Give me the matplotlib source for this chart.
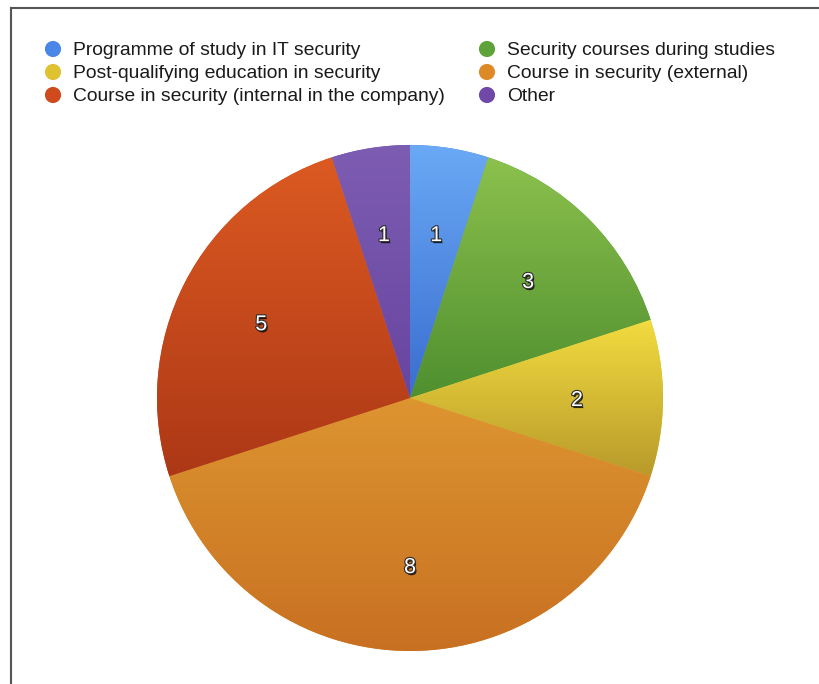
import numpy as np
import matplotlib
matplotlib.use("Agg")
import matplotlib.pyplot as plt
import matplotlib.patheffects as pe
import matplotlib.transforms as mtransforms
from matplotlib.colors import to_rgb
from matplotlib.lines import Line2D

plt.rcParams['font.family'] = ['Liberation Sans', 'DejaVu Sans']

# Survey data: type of security training
categories = [
    "Programme of study in IT security",
    "Security courses during studies",
    "Post-qualifying education in security",
    "Course in security (external)",
    "Course in security (internal in the company)",
    "Other",
]
counts = [1, 3, 2, 8, 5, 1]

# Top / bottom shades of each slice's vertical gradient
top_colors = ["#6aa9f5", "#8cc14d", "#f2dc3f", "#dd9530", "#dc5a22", "#7d5db2"]
bottom_colors = ["#3a6dd0", "#4f8f2f", "#b89a2b", "#c87022", "#ad3816", "#6845a0"]
legend_colors = ["#4a86e8", "#5ea33a", "#e0c230", "#dd8a26", "#cf4a1c", "#7048a8"]

W, H = 819, 684
fig = plt.figure(figsize=(W / 100, H / 100), dpi=100)
ax = fig.add_axes([0, 0, 1, 1])

cx, cy, R = 410, H - 398, 253
total = sum(counts)

wedges, _, autotexts = ax.pie(
    counts,
    startangle=90,
    counterclock=False,
    center=(cx, cy),
    radius=R,
    colors=[c for c in legend_colors],
    autopct=lambda p: f"{int(round(p * total / 100))}",
    pctdistance=0.66,
    wedgeprops=dict(linewidth=0),
    frame=True,
)

# vertical gradient fill clipped to each wedge
for w, ct, cb in zip(wedges, top_colors, bottom_colors):
    ext = w.get_path().get_extents()
    t = np.linspace(0, 1, 256)[:, None]
    c0, c1 = np.array(to_rgb(ct)), np.array(to_rgb(cb))
    img = (c0[None, None, :] * (1 - t[:, :, None]) + c1[None, None, :] * t[:, :, None])
    img = np.repeat(img, 2, axis=1)
    im = ax.imshow(img, extent=(ext.x0, ext.x1, ext.y0, ext.y1), origin='upper',
                   interpolation='bilinear', zorder=w.get_zorder() + 0.1)
    im.set_clip_path(w)

shift = mtransforms.ScaledTranslation(0, -2.5 / 100, fig.dpi_scale_trans)
for txt in autotexts:
    txt.set_color("white")
    txt.set_fontsize(15.5)
    txt.set_zorder(10)
    txt.set_transform(txt.get_transform() + shift)
    txt.set_path_effects([
        pe.withSimplePatchShadow(offset=(1.0, -1.5), shadow_rgbFace="black", alpha=0.8),
        pe.Stroke(linewidth=1.6, foreground="#2e2e2e"),
        pe.Normal(),
    ])

ax.set_xlim(0, W)
ax.set_ylim(0, H)
ax.set_aspect('equal')
ax.axis('off')

# legend: two columns, filled row by row
col_x = [53, 487]
row_y = [49, 72, 95]
for i, (label, col) in enumerate(zip(categories, legend_colors)):
    r, c = divmod(i, 2)
    x, y = col_x[c], H - row_y[r]
    ax.scatter([x], [y], s=135, color=col, edgecolors='none', zorder=5)
    ax.text(x + 20, y - 1.5, label, fontsize=13.9, color="#1a1a1a",
            va='center', ha='left', zorder=5)

# frame lines
fig.add_artist(Line2D([11 / W, 11 / W], [0, 1 - 7.5 / H], transform=fig.transFigure,
                      color="#555555", linewidth=1.5))
fig.add_artist(Line2D([11 / W, 1], [1 - 7.5 / H, 1 - 7.5 / H], transform=fig.transFigure,
                      color="#555555", linewidth=1.5))

fig.savefig("out.png", dpi=100)
